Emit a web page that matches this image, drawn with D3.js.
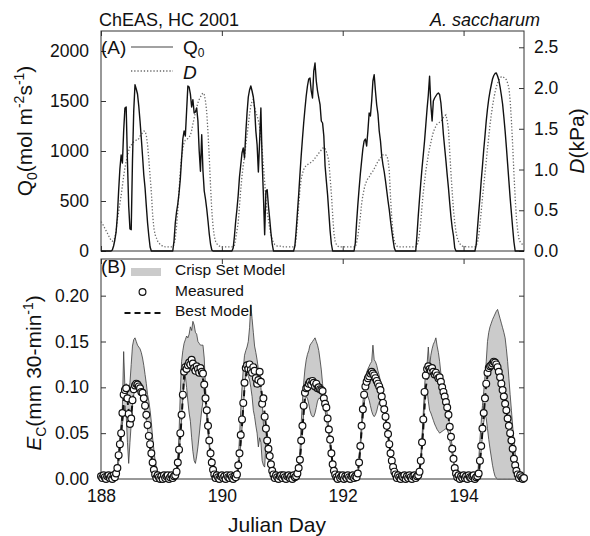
<!DOCTYPE html>
<html>
<head>
<meta charset="utf-8">
<script src="https://cdn.jsdelivr.net/npm/d3@7"></script>
<style>
  body { margin: 0; background: #fff; }
  svg text { font-family: Arial, "Liberation Sans", Helvetica, sans-serif; fill: #111; }
</style>
</head>
<body>
<div id="chart"></div>
<script>
// half-hourly values, 48 per day starting at Julian day 188.0 (last value = 195.0)
var firstDay = 188;

// incident PAR, Q0 (mol m-2 s-1)
var q0Values = [].concat(
  [0,0,0,0,0,0,0,0, 0,10,50,110,190,350,600,820, 960,880,1200,1430,1440,900,450,220, 213,900,1400,1663,1620,1570,1450,1300, 1130,950,760,630,450,280,150,40, 0,0,0,0,0,0,0,0],
  [0,0,0,0,0,0,0,0, 0,0,100,280,390,470,580,720, 920,1120,1200,1150,1400,1650,1640,1570, 1440,1513,1380,1390,1430,1300,1000,797, 1163,800,600,520,420,300,170,70, 10,0,0,0,0,0,0,0],
  [0,0,0,0,0,0,0,0, 0,30,150,300,420,560,740,860, 980,1030,930,1180,1380,1540,1610,1650, 1600,1540,1430,1200,1063,790,1100,1430, 897,563,163,600,613,450,320,180, 70,0,0,0,0,0,0,0],
  [0,0,0,0,0,0,0,0, 0,0,50,200,380,560,760,950, 1120,1280,1420,1550,1650,1720,1730,1600, 1530,1800,1880,1700,1600,1530,1463,1300, 1280,1150,850,700,560,380,200,70, 0,0,0,0,0,0,0,0],
  [0,0,0,0,0,0,0,0, 0,0,80,280,460,620,770,897, 1020,1100,1120,1050,1200,1380,1350,1500, 1700,1763,1600,1460,1370,1200,1100,950, 860,790,700,600,500,410,300,200, 110,30,0,0,0,0,0,0],
  [0,0,0,0,0,0,0,0, 0,0,0,160,350,520,680,830, 963,1100,1260,1420,1560,1747,1463,1300, 1500,1530,1550,1570,1580,1563,1480,1330, 1163,1030,900,760,630,480,340,230, 150,30,0,0,0,0,0,0],
  [0,0,0,0,0,0,0,0, 0,0,60,220,380,530,700,850, 1010,1150,1300,1420,1520,1597,1660,1720, 1755,1775,1780,1750,1710,1640,1560,1470, 1340,1200,1040,870,700,530,380,230, 90,0,0,0,0,0,0,0],
  [0]
);

// vapour pressure deficit, D (kPa)
var vpdValues = [].concat(
  [0.36,0.34,0.31,0.28,0.25,0.22,0.19,0.16, 0.13,0.12,0.13,0.16,0.25,0.38,0.48,0.58, 0.68,0.80,0.92,1.02,1.10,1.17,1.23,1.28, 1.30,1.32,1.34,1.35,1.36,1.36,1.38,1.41, 1.43,1.45,1.47,1.47,1.42,1.30,1.12,0.92, 0.72,0.45,0.28,0.20,0.16,0.12,0.10,0.08],
  [0.07,0.06,0.06,0.05,0.05,0.05,0.05,0.05, 0.05,0.05,0.08,0.15,0.30,0.50,0.75,0.98, 1.15,1.26,1.33,1.36,1.37,1.38,1.40,1.42, 1.48,1.56,1.63,1.70,1.76,1.82,1.86,1.89, 1.92,1.94,1.92,1.84,1.70,1.45,1.15,0.80, 0.50,0.30,0.18,0.12,0.09,0.07,0.06,0.06],
  [0.05,0.05,0.05,0.05,0.05,0.05,0.05,0.05, 0.05,0.05,0.07,0.15,0.25,0.35,0.55,0.75, 0.92,1.05,1.15,1.30,1.42,1.55,1.68,1.78, 1.84,1.86,1.76,1.70,1.66,1.60,1.52,1.40, 1.25,1.05,0.85,0.62,0.48,0.38,0.28,0.20, 0.14,0.10,0.08,0.07,0.06,0.06,0.06,0.06],
  [0.06,0.05,0.05,0.05,0.05,0.05,0.05,0.05, 0.05,0.05,0.06,0.15,0.35,0.55,0.75,0.88, 0.95,1.00,1.03,1.05,1.06,1.07,1.08,1.09, 1.10,1.12,1.14,1.16,1.18,1.20,1.22,1.24, 1.26,1.27,1.26,1.22,1.17,1.10,0.90,0.70, 0.45,0.22,0.12,0.08,0.06,0.05,0.05,0.05],
  [0.05,0.05,0.05,0.05,0.05,0.05,0.05,0.05, 0.05,0.05,0.05,0.10,0.18,0.30,0.42,0.58, 0.68,0.76,0.82,0.86,0.89,0.91,0.94,0.96, 0.98,1.01,1.04,1.07,1.10,1.12,1.14,1.16, 1.18,1.18,1.18,1.17,1.12,0.98,0.65,0.40, 0.22,0.12,0.08,0.06,0.05,0.05,0.05,0.05],
  [0.05,0.05,0.05,0.05,0.05,0.05,0.05,0.05, 0.05,0.05,0.05,0.07,0.11,0.22,0.36,0.55, 0.72,0.85,0.98,1.08,1.18,1.26,1.33,1.40, 1.46,1.50,1.53,1.56,1.57,1.58,1.59,1.61, 1.64,1.66,1.67,1.60,1.50,1.22,0.95,0.72, 0.50,0.35,0.23,0.16,0.12,0.09,0.07,0.06],
  [0.06,0.06,0.05,0.05,0.05,0.05,0.05,0.05, 0.05,0.05,0.07,0.10,0.18,0.32,0.48,0.65, 0.80,0.95,1.10,1.26,1.40,1.55,1.67,1.78, 1.87,1.95,2.01,2.06,2.10,2.12,2.14,2.14, 2.13,2.12,2.10,2.06,2.00,1.85,1.60,1.30, 0.95,0.65,0.40,0.25,0.15,0.11,0.09,0.08],
  [0.07]
);

// measured canopy transpiration, Ec (mm 30-min-1)
var ecMeasured = [].concat(
  [0.003,0.001,0.004,0.002,0.000,0.003,0.004,0.001, 0.003,0.000,0.004,0.002,0.006,0.012,0.026,0.038, 0.050,0.072,0.092,0.097,0.099,0.088,0.071,0.060, 0.066,0.086,0.098,0.102,0.104,0.103,0.101,0.099, 0.095,0.094,0.088,0.080,0.070,0.059,0.047,0.038, 0.028,0.018,0.010,0.005,0.001,0.004,0.002,0.000],
  [0.003,0.000,0.004,0.001,0.003,0.004,0.000,0.002, 0.004,0.001,0.003,0.004,0.008,0.018,0.032,0.050, 0.070,0.092,0.117,0.122,0.120,0.124,0.127,0.125, 0.130,0.126,0.121,0.118,0.123,0.120,0.116,0.121, 0.117,0.115,0.103,0.088,0.075,0.058,0.042,0.028, 0.018,0.010,0.005,0.001,0.004,0.002,0.000,0.003],
  [0.004,0.001,0.003,0.000,0.004,0.002,0.001,0.004, 0.002,0.000,0.003,0.002,0.005,0.015,0.028,0.048, 0.065,0.083,0.105,0.121,0.124,0.120,0.125,0.119, 0.116,0.122,0.118,0.110,0.104,0.108,0.117,0.106, 0.082,0.088,0.068,0.055,0.042,0.033,0.025,0.016, 0.009,0.005,0.001,0.004,0.002,0.000,0.003,0.004],
  [0.001,0.004,0.002,0.000,0.003,0.004,0.001,0.003, 0.000,0.004,0.002,0.003,0.006,0.012,0.021,0.042, 0.058,0.080,0.094,0.099,0.100,0.104,0.106,0.103, 0.107,0.105,0.101,0.104,0.099,0.100,0.098,0.097, 0.096,0.088,0.082,0.078,0.066,0.054,0.043,0.028, 0.016,0.009,0.005,0.002,0.000,0.004,0.001,0.003],
  [0.004,0.000,0.003,0.001,0.004,0.002,0.000,0.003, 0.004,0.001,0.003,0.002,0.006,0.018,0.036,0.058, 0.076,0.092,0.101,0.106,0.110,0.112,0.115,0.117, 0.115,0.113,0.110,0.107,0.104,0.101,0.097,0.090, 0.083,0.076,0.068,0.058,0.049,0.038,0.028,0.020, 0.013,0.008,0.005,0.001,0.004,0.002,0.000,0.003],
  [0.002,0.004,0.000,0.003,0.001,0.004,0.002,0.000, 0.003,0.004,0.001,0.003,0.004,0.008,0.020,0.040, 0.065,0.095,0.113,0.120,0.123,0.120,0.118,0.121, 0.117,0.114,0.116,0.113,0.110,0.111,0.106,0.100, 0.095,0.090,0.084,0.078,0.070,0.057,0.046,0.033, 0.022,0.012,0.006,0.002,0.004,0.000,0.003,0.001],
  [0.004,0.001,0.003,0.000,0.004,0.002,0.001,0.003, 0.004,0.000,0.002,0.003,0.006,0.020,0.036,0.055, 0.072,0.088,0.104,0.116,0.121,0.123,0.124,0.126, 0.128,0.127,0.125,0.122,0.117,0.111,0.104,0.097, 0.090,0.082,0.075,0.066,0.058,0.050,0.042,0.033, 0.022,0.015,0.009,0.005,0.001,0.004,0.002,0.000],
  [0.001]
);

// crisp set model envelope, upper edge
var crispUpper = [].concat(
  [0,0,0,0,0,0,0,0, 0,0,0,0,0.008,0.016,0.030,0.045, 0.060,0.080,0.139,0.100,0.104,0.100,0.095,0.105, 0.125,0.145,0.152,0.154,0.150,0.146,0.144,0.142, 0.138,0.132,0.124,0.114,0.104,0.092,0.085,0.075, 0.062,0.045,0.032,0.020,0.012,0.006,0.003,0],
  [0,0,0,0,0,0,0,0, 0,0,0,0.004,0.010,0.022,0.050,0.095, 0.128,0.140,0.148,0.152,0.156,0.154,0.158,0.166, 0.162,0.172,0.168,0.160,0.158,0.150,0.148,0.146, 0.146,0.146,0.132,0.100,0.080,0.063,0.042,0.024, 0.013,0.005,0.002,0,0,0,0,0],
  [0,0,0,0,0,0,0,0, 0,0,0,0,0.006,0.020,0.045,0.075, 0.100,0.120,0.135,0.140,0.144,0.150,0.165,0.190, 0.175,0.160,0.145,0.138,0.130,0.120,0.110,0.100, 0.085,0.060,0.055,0.060,0.048,0.034,0.024,0.015, 0.009,0.004,0.002,0,0,0,0,0],
  [0,0,0,0,0,0,0,0, 0,0,0,0,0.006,0.014,0.030,0.060, 0.085,0.105,0.120,0.130,0.136,0.140,0.146,0.148, 0.150,0.152,0.154,0.150,0.146,0.140,0.130,0.119, 0.104,0.090,0.084,0.078,0.068,0.056,0.045,0.031, 0.019,0.011,0.006,0.003,0,0,0,0],
  [0,0,0,0,0,0,0,0, 0,0,0,0,0.008,0.022,0.042,0.064, 0.082,0.100,0.110,0.116,0.120,0.123,0.126,0.128, 0.146,0.130,0.128,0.124,0.118,0.113,0.106,0.096, 0.087,0.079,0.071,0.062,0.052,0.042,0.032,0.023, 0.015,0.009,0.005,0.002,0,0,0,0],
  [0,0,0,0,0,0,0,0, 0,0,0,0,0.004,0.010,0.024,0.046, 0.072,0.100,0.120,0.125,0.144,0.122,0.135,0.142, 0.147,0.150,0.154,0.145,0.138,0.128,0.115,0.104, 0.094,0.086,0.082,0.076,0.070,0.058,0.047,0.034, 0.023,0.013,0.006,0.003,0,0,0,0],
  [0,0,0,0,0,0,0,0, 0,0,0,0,0.020,0.043,0.062,0.080, 0.095,0.112,0.128,0.150,0.160,0.166,0.170,0.174, 0.177,0.180,0.183,0.185,0.180,0.175,0.170,0.165, 0.160,0.154,0.142,0.128,0.110,0.092,0.075,0.058, 0.042,0.028,0.015,0.005,0.002,0,0,0],
  [0]
);

// crisp set model envelope, lower edge
var crispLower = [].concat(
  [0,0,0,0,0,0,0,0, 0,0,0,0,0.004,0.008,0.018,0.030, 0.042,0.060,0.070,0.080,0.070,0.040,0.017,0.040, 0.060,0.080,0.092,0.097,0.099,0.098,0.096,0.093, 0.089,0.085,0.080,0.073,0.064,0.053,0.041,0.030, 0.021,0.013,0.008,0.004,0.002,0,0,0],
  [0,0,0,0,0,0,0,0, 0,0,0,0.002,0.005,0.012,0.028,0.045, 0.065,0.088,0.105,0.112,0.100,0.085,0.072,0.063, 0.045,0.030,0.020,0.017,0.025,0.035,0.048,0.062, 0.075,0.085,0.090,0.082,0.066,0.050,0.034,0.021, 0.011,0.005,0.002,0,0,0,0,0],
  [0,0,0,0,0,0,0,0, 0,0,0,0,0.003,0.008,0.020,0.038, 0.055,0.075,0.098,0.112,0.115,0.112,0.108,0.100, 0.090,0.075,0.068,0.058,0.050,0.035,0.045,0.040, 0.020,0.015,0.013,0.038,0.030,0.022,0.015,0.009, 0.005,0.002,0,0,0,0,0,0],
  [0,0,0,0,0,0,0,0, 0,0,0,0,0.004,0.010,0.018,0.036, 0.052,0.072,0.085,0.090,0.088,0.082,0.075,0.070, 0.068,0.068,0.072,0.078,0.085,0.088,0.088,0.086, 0.084,0.080,0.074,0.066,0.056,0.046,0.036,0.024, 0.014,0.008,0.004,0.002,0,0,0,0],
  [0,0,0,0,0,0,0,0, 0,0,0,0,0.004,0.014,0.030,0.050, 0.068,0.082,0.090,0.092,0.090,0.086,0.080,0.074, 0.070,0.068,0.070,0.074,0.080,0.084,0.086,0.084, 0.078,0.072,0.064,0.055,0.046,0.036,0.026,0.018, 0.012,0.007,0.003,0.001,0,0,0,0],
  [0,0,0,0,0,0,0,0, 0,0,0,0,0.002,0.006,0.016,0.034, 0.056,0.082,0.095,0.098,0.085,0.075,0.072,0.068, 0.064,0.060,0.057,0.054,0.052,0.050,0.051,0.052, 0.053,0.054,0.055,0.054,0.050,0.042,0.034,0.026, 0.018,0.010,0.005,0.002,0,0,0,0],
  [0,0,0,0,0,0,0,0, 0,0,0,0,0.004,0.014,0.030,0.048, 0.062,0.070,0.066,0.055,0.043,0.033,0.024,0.015, 0.008,0.003,0.001,0,0,0,0,0, 0,0,0,0,0,0,0,0, 0,0,0,0,0,0,0,0],
  [0]
);

// best model, hourly values (24 per day from 188.0, last value = 195.0)
var ecBestModel = [].concat(
  [0.002,0.002,0.002,0.002,0.002,0.002,0.006,0.022, 0.050,0.085,0.097,0.075,0.070,0.096,0.104,0.100, 0.094,0.085,0.068,0.045,0.026,0.010,0.004,0.002],
  [0.002,0.002,0.002,0.002,0.002,0.002,0.006,0.028, 0.066,0.112,0.120,0.124,0.127,0.121,0.120,0.118, 0.116,0.102,0.074,0.042,0.017,0.006,0.003,0.002],
  [0.002,0.002,0.002,0.002,0.002,0.002,0.004,0.024, 0.058,0.100,0.122,0.122,0.118,0.117,0.106,0.112, 0.090,0.072,0.044,0.025,0.009,0.004,0.002,0.002],
  [0.002,0.002,0.002,0.002,0.002,0.002,0.006,0.020, 0.055,0.090,0.098,0.102,0.104,0.102,0.098,0.095, 0.092,0.080,0.064,0.040,0.016,0.006,0.003,0.002],
  [0.002,0.002,0.002,0.002,0.002,0.002,0.006,0.034, 0.072,0.098,0.108,0.113,0.114,0.108,0.102,0.094, 0.082,0.066,0.048,0.028,0.013,0.005,0.003,0.002],
  [0.002,0.002,0.002,0.002,0.002,0.002,0.004,0.018, 0.055,0.100,0.118,0.117,0.116,0.114,0.110,0.105, 0.095,0.082,0.068,0.045,0.021,0.006,0.003,0.002],
  [0.002,0.002,0.002,0.002,0.002,0.002,0.005,0.034, 0.070,0.104,0.120,0.124,0.127,0.124,0.116,0.103, 0.090,0.075,0.058,0.040,0.021,0.009,0.004,0.002],
  [0.001]
);

var q0Ticks = [0, 500, 1000, 1500, 2000];
var vpdTicks = [0, 0.5, 1.0, 1.5, 2.0, 2.5];
var ecTicks = [0, 0.05, 0.10, 0.15, 0.20];
var dayTicks = [188, 190, 192, 194];

var svgWidth = 590;
var svgHeight = 536;
var plotLeft = 101, plotRight = 524;
var panelA = {top: 31, bottom: 251};
var panelB = {top: 259, bottom: 479};
var ink = "#111";
var frameColor = "#333";

var svg = d3.select("#chart")
    .append("svg")
    .attr("width", svgWidth)
    .attr("height", svgHeight);

// scales
var xScale = d3.scaleLinear().domain([188, 195]).range([plotLeft, plotRight]);
var q0Scale = d3.scaleLinear().domain([0, 2200]).range([panelA.bottom, panelA.top]);
var vpdScale = d3.scaleLinear().domain([0, 2.7]).range([panelA.bottom, panelA.top]);
var ecScale = d3.scaleLinear().domain([0, 0.24]).range([panelB.bottom, panelB.top]);

var halfHourly = q0Values.map(function(v, i) {
    return {
        day: firstDay + i / 48,
        q0: v,
        vpd: vpdValues[i],
        measured: ecMeasured[i],
        hi: crispUpper[i],
        lo: crispLower[i]
    };
});
var hourly = ecBestModel.map(function(v, i) {
    return {day: firstDay + i / 24, best: v};
});

// frames
[panelA, panelB].forEach(function(p) {
    svg.append("rect")
        .attr("x", plotLeft)
        .attr("y", p.top)
        .attr("width", plotRight - plotLeft)
        .attr("height", p.bottom - p.top)
        .attr("fill", "none")
        .attr("stroke", frameColor)
        .attr("stroke-width", 1);
});

function styleAxis(g, size) {
    g.select(".domain").remove();
    g.selectAll("line").attr("stroke", frameColor);
    g.attr("font-size", size);
    g.selectAll("text").attr("fill", ink);
}

// ---- panel A axes
svg.append("g")
    .attr("transform", `translate(${plotLeft},0)`)
    .call(d3.axisLeft(q0Scale).tickValues(q0Ticks).tickFormat(d3.format("d")).tickSize(-5).tickPadding(12))
    .call(styleAxis, 17.5);

svg.append("g")
    .attr("transform", `translate(${plotRight},0)`)
    .call(d3.axisRight(vpdScale).tickValues(vpdTicks).tickFormat(d3.format(".1f")).tickSize(-5).tickPadding(10))
    .call(styleAxis, 17.5);

svg.append("g")
    .attr("transform", `translate(0,${panelA.top})`)
    .call(d3.axisTop(xScale).tickValues(dayTicks).tickSize(-5).tickFormat(""))
    .call(styleAxis, 10);

svg.append("g")
    .attr("transform", `translate(0,${panelA.bottom})`)
    .call(d3.axisBottom(xScale).tickValues(dayTicks).tickSize(-5).tickFormat(""))
    .call(styleAxis, 10);

// ---- panel B axes
svg.append("g")
    .attr("transform", `translate(${plotLeft},0)`)
    .call(d3.axisLeft(ecScale).tickValues(ecTicks).tickFormat(d3.format(".2f")).tickSize(-5).tickPadding(12))
    .call(styleAxis, 17.5);

svg.append("g")
    .attr("transform", `translate(${plotRight},0)`)
    .call(d3.axisRight(ecScale).tickValues(ecTicks).tickSize(-5).tickFormat(""))
    .call(styleAxis, 10);

svg.append("g")
    .attr("transform", `translate(0,${panelB.top})`)
    .call(d3.axisTop(xScale).tickValues(dayTicks).tickSize(-5).tickFormat(""))
    .call(styleAxis, 10);

svg.append("g")
    .attr("transform", `translate(0,${panelB.bottom})`)
    .call(d3.axisBottom(xScale).tickValues(dayTicks).tickFormat(d3.format("d")).tickSize(-5).tickPadding(11))
    .call(styleAxis, 17.5);

// ---- panel A data
var vpdLine = d3.line().x(d => xScale(d.day)).y(d => vpdScale(d.vpd));
var q0Line = d3.line().x(d => xScale(d.day)).y(d => q0Scale(d.q0));

svg.append("path")
    .datum(halfHourly)
    .attr("d", vpdLine)
    .attr("fill", "none")
    .attr("stroke", "#6a6a6a")
    .attr("stroke-width", 1.3)
    .attr("stroke-dasharray", "1.3,1.9");

svg.append("path")
    .datum(halfHourly)
    .attr("d", q0Line)
    .attr("fill", "none")
    .attr("stroke", ink)
    .attr("stroke-width", 1.4)
    .attr("stroke-linejoin", "round");

// ---- panel B data
var crispArea = d3.area()
    .x(d => xScale(d.day))
    .y0(d => ecScale(d.lo))
    .y1(d => ecScale(d.hi));

svg.append("path")
    .datum(halfHourly)
    .attr("d", crispArea)
    .attr("fill", "#cbcbcb")
    .attr("stroke", "none");

["hi", "lo"].forEach(function(key) {
    svg.append("path")
        .datum(halfHourly)
        .attr("d", d3.line().x(d => xScale(d.day)).y(d => ecScale(d[key])))
        .attr("fill", "none")
        .attr("stroke", "#3a3a3a")
        .attr("stroke-width", 0.8);
});

svg.append("path")
    .datum(hourly)
    .attr("d", d3.line().x(d => xScale(d.day)).y(d => ecScale(d.best)))
    .attr("fill", "none")
    .attr("stroke", ink)
    .attr("stroke-width", 2)
    .attr("stroke-dasharray", "6,4");

svg.append("g")
    .selectAll("circle")
    .data(halfHourly)
    .enter()
    .append("circle")
    .attr("cx", d => xScale(d.day))
    .attr("cy", d => ecScale(d.measured))
    .attr("r", 3.4)
    .attr("fill", "#fff")
    .attr("stroke", ink)
    .attr("stroke-width", 1.2);

// ---- legends
var legendA = svg.append("g");
legendA.append("text").attr("x", 101).attr("y", 54).attr("font-size", 19).text("(A)");
legendA.append("line")
    .attr("x1", 131).attr("x2", 173).attr("y1", 47).attr("y2", 47)
    .attr("stroke", "#444").attr("stroke-width", 1.2);
var q0Key = legendA.append("text").attr("x", 183).attr("y", 54).attr("font-size", 19);
q0Key.append("tspan").text("Q");
q0Key.append("tspan").attr("font-size", 12).attr("dy", 3).text("0");
legendA.append("line")
    .attr("x1", 131).attr("x2", 173).attr("y1", 71).attr("y2", 71)
    .attr("stroke", "#6a6a6a").attr("stroke-width", 1.3).attr("stroke-dasharray", "1.3,1.9");
legendA.append("text").attr("x", 183).attr("y", 79).attr("font-size", 19)
    .attr("font-style", "italic").text("D");

var legendB = svg.append("g");
legendB.append("text").attr("x", 101).attr("y", 273).attr("font-size", 19).text("(B)");
legendB.append("rect")
    .attr("x", 131).attr("y", 268).attr("width", 30).attr("height", 8)
    .attr("fill", "#cbcbcb");
legendB.append("text").attr("x", 175).attr("y", 275).attr("font-size", 15.5).text("Crisp Set Model");
legendB.append("circle")
    .attr("cx", 142.5).attr("cy", 292).attr("r", 3.4)
    .attr("fill", "#fff").attr("stroke", ink).attr("stroke-width", 1.2);
legendB.append("text").attr("x", 175).attr("y", 296).attr("font-size", 15.5).text("Measured");
legendB.append("line")
    .attr("x1", 124.5).attr("x2", 161).attr("y1", 313).attr("y2", 313)
    .attr("stroke", ink).attr("stroke-width", 2).attr("stroke-dasharray", "6,4");
legendB.append("text").attr("x", 175).attr("y", 316).attr("font-size", 15.5).text("Best Model");

// ---- titles
svg.append("text").attr("x", 99).attr("y", 26).attr("font-size", 18).text("ChEAS, HC 2001");
svg.append("text").attr("x", 540).attr("y", 26).attr("font-size", 18)
    .attr("text-anchor", "end").attr("font-style", "italic").text("A. saccharum");

// y-axis label, panel A left
var q0Title = svg.append("text")
    .attr("transform", "translate(32,131) rotate(-90)")
    .attr("text-anchor", "middle")
    .attr("font-size", 21);
q0Title.append("tspan").text("Q");
q0Title.append("tspan").attr("font-size", 14).attr("dy", 5).text("0");
q0Title.append("tspan").attr("dy", -5).text("(mol m");
q0Title.append("tspan").attr("font-size", 14).attr("dy", -8).text("-2");
q0Title.append("tspan").attr("dy", 8).text("s");
q0Title.append("tspan").attr("font-size", 14).attr("dy", -8).text("-1");
q0Title.append("tspan").attr("dy", 8).text(")");

// y-axis label, panel A right
var vpdTitle = svg.append("text")
    .attr("transform", "translate(584,141) rotate(-90)")
    .attr("text-anchor", "middle")
    .attr("font-size", 21);
vpdTitle.append("tspan").attr("font-style", "italic").text("D");
vpdTitle.append("tspan").text("(kPa)");

// y-axis label, panel B
var ecTitle = svg.append("text")
    .attr("transform", "translate(41,373) rotate(-90)")
    .attr("text-anchor", "middle")
    .attr("font-size", 21);
ecTitle.append("tspan").attr("font-style", "italic").text("E");
ecTitle.append("tspan").attr("font-size", 14).attr("dy", 5).text("C");
ecTitle.append("tspan").attr("dy", -5).text("(mm 30-min");
ecTitle.append("tspan").attr("font-size", 14).attr("dy", -8).text("-1");
ecTitle.append("tspan").attr("dy", 8).text(")");

// x-axis label
svg.append("text")
    .attr("x", 277)
    .attr("y", 532)
    .attr("text-anchor", "middle")
    .attr("font-size", 21)
    .text("Julian Day");
</script>
</body>
</html>
